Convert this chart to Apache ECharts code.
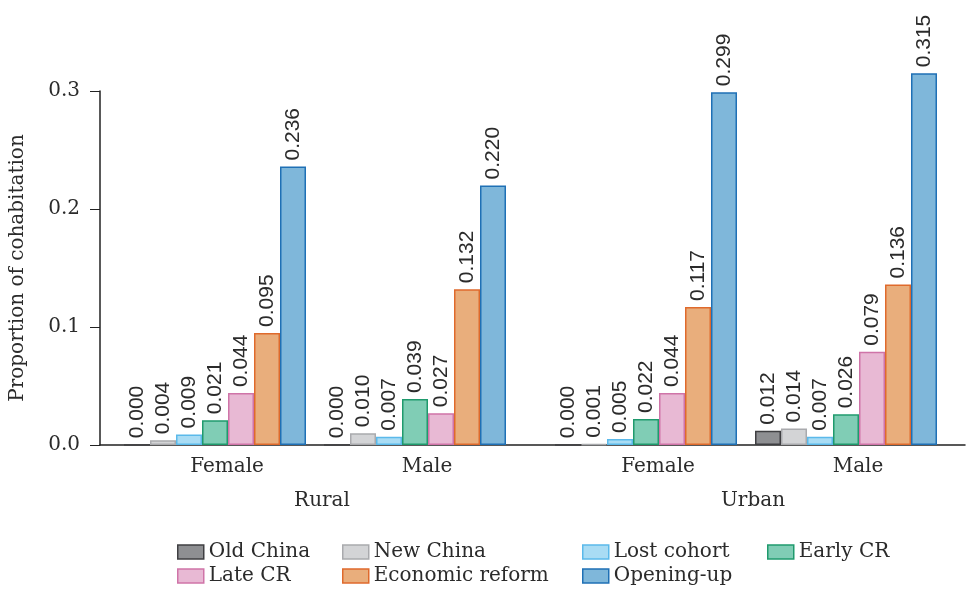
<!DOCTYPE html>
<html style="height: 100%">
<head>
  <meta charset="utf-8">
  <script type="text/javascript" src="https://cdn.jsdelivr.net/npm/echarts@6/dist/echarts.min.js"></script>
</head>
<body style="height: 100%; margin: 0; background: #fff">
  <div id="container" style="width: 969px; height: 591px"></div>
  <script type="text/javascript">
    // values ordered: Rural Female, Rural Male, Urban Female, Urban Male
    var subCategories = ['Female', 'Male'];
    var areas = ['Rural', 'Urban'];
    var cohorts = ['Old China', 'New China', 'Lost cohort', 'Early CR', 'Late CR', 'Economic reform', 'Opening-up'];
    var oldChina = [0.000, 0.000, 0.000, 0.012];
    var newChina = [0.004, 0.010, 0.001, 0.014];
    var lostCohort = [0.009, 0.007, 0.005, 0.007];
    var earlyCR = [0.021, 0.039, 0.022, 0.026];
    var lateCR = [0.044, 0.027, 0.044, 0.079];
    var economicReform = [0.095, 0.132, 0.117, 0.136];
    var openingUp = [0.236, 0.220, 0.299, 0.315];
    var yTicks = [0, 0.1, 0.2, 0.3];

    var values = [oldChina, newChina, lostCohort, earlyCR, lateCR, economicReform, openingUp];
    var fills = ['#8e8f92', '#d3d4d6', '#a9dcf4', '#80cdb5', '#e8b9d4', '#e9ae7c', '#7fb7da'];
    var borders = ['#3f3f42', '#a9aaad', '#5bb9ea', '#1f9a6d', '#cf74a8', '#df6a2c', '#1f70b5'];

    var serif = '"DejaVu Serif", "Liberation Serif", serif';
    var textColor = '#2b2b2b';

    var dom = document.getElementById('container');
    var myChart = echarts.init(dom, null, {renderer: 'canvas'});

    var series = [];
    for (var g = 0; g < 2; g++) {
      for (var i = 0; i < cohorts.length; i++) {
        series.push({
          name: cohorts[i],
          type: 'bar',
          xAxisIndex: g + 1,
          yAxisIndex: g + 1,
          data: values[i].slice(g * 2, g * 2 + 2),
          barWidth: 26,
          barGap: '0%',
          clip: false,
          itemStyle: {color: fills[i], borderColor: borders[i], borderWidth: 1.5},
          label: {
            show: true,
            position: 'top',
            rotate: 90,
            align: 'left',
            verticalAlign: 'middle',
            distance: 6,
            fontFamily: '"Liberation Sans", Arial, sans-serif',
            fontSize: 21,
            color: textColor,
            formatter: function (p) { return p.value.toFixed(3); }
          }
        });
      }
    }

    var hiddenY = function (idx) {
      return {gridIndex: idx, type: 'value', min: 0, max: 0.3, interval: 0.1, show: false};
    };
    var groupAxis = function (idx, name) {
      return {
        gridIndex: idx, type: 'category', data: subCategories,
        axisLine: {show: false}, axisTick: {show: false},
        axisLabel: {fontFamily: serif, fontSize: 20, color: textColor, margin: 12, padding: [0, 0, 0, 24]},
        name: name, nameLocation: 'middle', nameGap: 46,
        nameTextStyle: {fontFamily: serif, fontSize: 20, color: textColor, padding: [0, 0, 0, 14]}
      };
    };
    var legendText = {fontFamily: serif, fontSize: 20, color: textColor, lineHeight: 20};
    var legendCols = [['Old China', 'Late CR'], ['New China', 'Economic reform'], ['Lost cohort', 'Opening-up'], ['Early CR']];
    var legendLeft = [177, 342, 582, 767];
    var legends = legendCols.map(function (col, k) {
      return {
        data: col, orient: 'vertical', left: legendLeft[k], top: 542,
        icon: 'rect', itemWidth: 26, itemHeight: 14, itemGap: 4, itemStyle: {borderWidth: 1.5},
        textStyle: legendText, padding: 0
      };
    });

    var option = {
      backgroundColor: '#fff',
      animation: false,
      legend: legends,
      grid: [
        {left: 97, right: 4, top: 91, bottom: 146},
        {left: 115, width: 400, top: 91, bottom: 146},
        {left: 546, width: 400, top: 91, bottom: 146}
      ],
      xAxis: [
        {gridIndex: 0, type: 'value', min: 0, max: 1,
          axisLine: {show: true, lineStyle: {color: '#222', width: 1.5}},
          axisTick: {show: false}, axisLabel: {show: false}, splitLine: {show: false}},
        groupAxis(1, areas[0]),
        groupAxis(2, areas[1])
      ],
      yAxis: [
        {gridIndex: 0, type: 'value', min: yTicks[0], max: yTicks[yTicks.length - 1], interval: 0.1,
          axisLine: {show: true, lineStyle: {color: '#222', width: 1.5}},
          axisTick: {show: true, length: 10, lineStyle: {color: '#222', width: 1}},
          splitLine: {show: false},
          axisLabel: {fontFamily: serif, fontSize: 20, color: textColor, margin: 20,
            formatter: function (v) { return v.toFixed(1); }},
          name: 'Proportion of cohabitation', nameLocation: 'middle', nameGap: 72,
          nameTextStyle: {fontFamily: serif, fontSize: 20, color: textColor}
        },
        hiddenY(1),
        hiddenY(2)
      ],
      series: series
    };
    myChart.setOption(option);
  </script>
</body>
</html>
